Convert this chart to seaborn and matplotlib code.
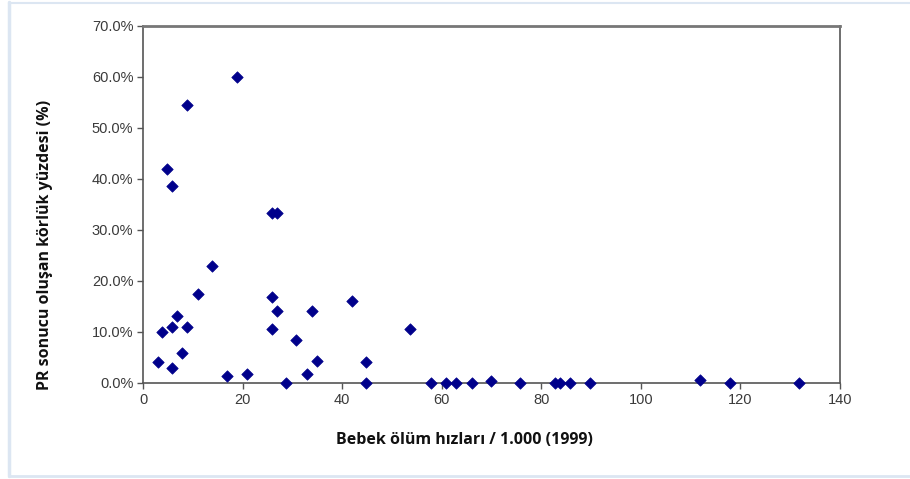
import matplotlib
matplotlib.use("Agg")
import matplotlib.pyplot as plt
from matplotlib.ticker import FuncFormatter
import seaborn as sns
import pandas as pd

# Infant mortality rate (per 1,000, 1999)
infant_mortality = [3, 3.8, 4.8, 5.8, 5.8, 5.8, 6.9, 7.9, 8.9, 8.9, 11, 13.8,
                    16.9, 18.9, 20.8, 26, 27, 26, 27, 26, 28.8, 30.8, 32.9,
                    33.9, 34.9, 41.9, 44.8, 44.8, 53.7, 57.9, 60.9, 62.9, 66,
                    69.9, 75.8, 82.7, 83.7, 85.8, 89.7, 111.9, 117.9, 131.7]
# Blindness due to ROP (%)
blindness_pct = [4.1, 10.0, 41.9, 38.6, 10.9, 2.9, 13.1, 5.9, 10.9, 54.5, 17.4, 22.9,
                 1.4, 60.0, 1.8, 33.4, 33.4, 16.9, 14.2, 10.6, 0.0, 8.4, 1.8,
                 14.2, 4.3, 16.1, 4.1, 0.0, 10.6, 0.0, 0.0, 0.0, 0.0,
                 0.3, 0.0, 0.0, 0.0, 0.0, 0.0, 0.5, 0.0, 0.0]

x_ticks = [0, 20, 40, 60, 80, 100, 120, 140]
y_ticks = [0, 10, 20, 30, 40, 50, 60, 70]

df = pd.DataFrame({"x": infant_mortality, "y": blindness_pct})

sns.set_theme(style="white")
plt.rcParams["font.family"] = ["Liberation Sans", "DejaVu Sans"]

fig = plt.figure(figsize=(9.10, 4.79), dpi=100)
W, H = 910, 479
ax = fig.add_axes([143 / W, 1 - 383 / H, (840 - 143) / W, (383 - 25.7) / H])

sns.scatterplot(data=df, x="x", y="y", ax=ax, marker="D", s=34,
                color="#00008B", edgecolor="#00008B", linewidth=0.5, zorder=3,
                clip_on=False)

ax.set_xlim(0, 140)
ax.set_ylim(0, 70)
ax.set_xticks(x_ticks)
ax.set_yticks(y_ticks)
ax.yaxis.set_major_formatter(FuncFormatter(lambda v, p: f"{v:.1f}%"))
ax.tick_params(axis="both", which="major", direction="out", length=4, width=1,
               color="#555555", labelsize=10.5, labelcolor="#3a3a3a",
               left=True, bottom=True, pad=3)
for side in ["left", "right", "bottom", "top"]:
    ax.spines[side].set_visible(True)
    ax.spines[side].set_color("#555555")
    ax.spines[side].set_linewidth(1.2)
ax.spines["top"].set_linewidth(2.0)
ax.spines["top"].set_color("#777777")
ax.set_xlabel("")
ax.set_ylabel("")

fig.text(464 / W, 1 - 440 / H, "Bebek ölüm hızları / 1.000 (1999)",
         ha="center", va="center", fontsize=11.5, fontweight="bold",
         family=["Open Sans", "DejaVu Sans"], color="#111111")
fig.text(45 / W, 1 - 245 / H, "PR sonucu oluşan körlük yüzdesi (%)",
         ha="center", va="center", rotation=90, fontsize=11.5,
         fontweight="bold", family=["Open Sans", "DejaVu Sans"],
         color="#111111")

# light frame around the picture
frame_color = "#dce6f2"
fig.add_artist(plt.Line2D([8.5 / W, 8.5 / W], [1 - 2 / H, 1 - 476 / H],
                          transform=fig.transFigure, color=frame_color, lw=2.5))
fig.add_artist(plt.Line2D([8.5 / W, 1.0], [1 - 2.5 / H, 1 - 2.5 / H],
                          transform=fig.transFigure, color=frame_color, lw=1.5))
fig.add_artist(plt.Line2D([8.5 / W, 1.0], [1 - 476 / H, 1 - 476 / H],
                          transform=fig.transFigure, color=frame_color, lw=2.0))

fig.savefig("out.png", dpi=100, facecolor="white")
